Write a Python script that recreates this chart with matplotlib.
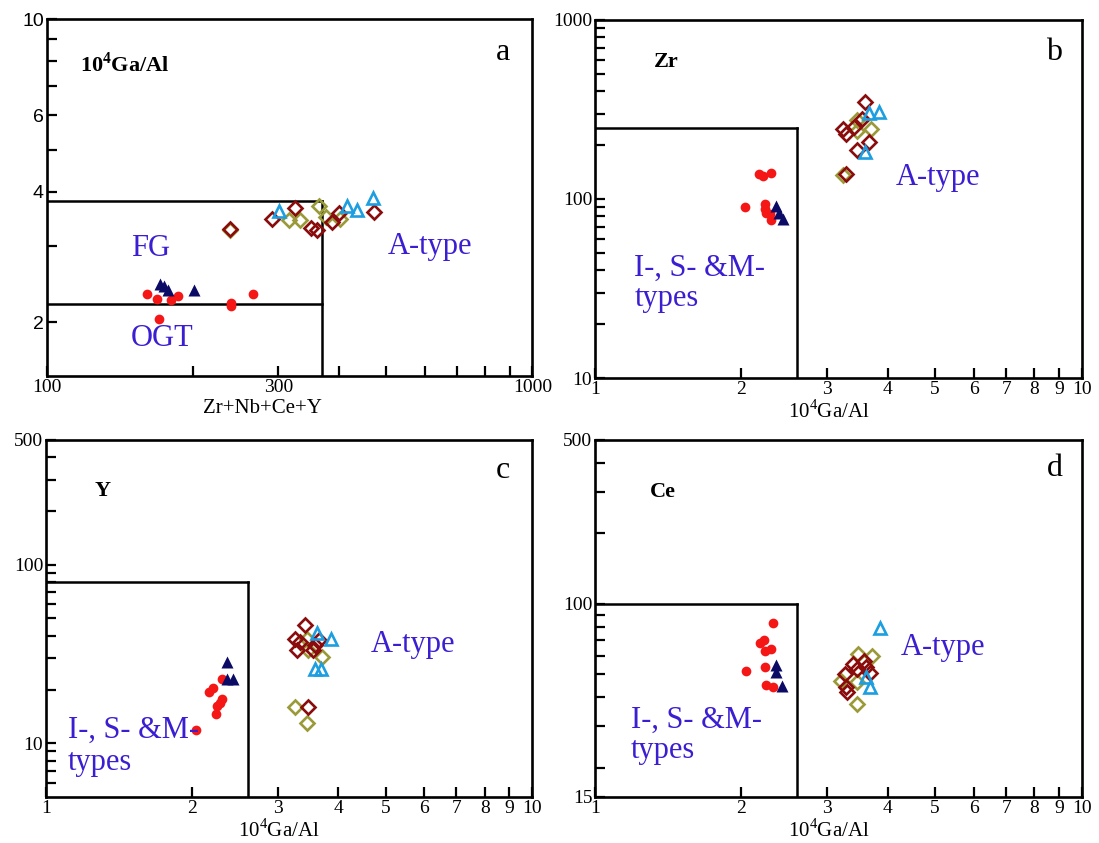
"""Ga/Al discrimination diagrams (Whalen et al. style), four panels."""

import matplotlib
matplotlib.use("Agg")
import matplotlib.pyplot as plt
from matplotlib import ticker

plt.rcParams["font.family"] = ["Liberation Serif", "DejaVu Serif"]
plt.rcParams["mathtext.fontset"] = "custom"
plt.rcParams["mathtext.rm"] = "Liberation Serif"
plt.rcParams["mathtext.bf"] = "Liberation Serif:bold"

# ---- panel a: Zr+Nb+Ce+Y vs 10^4Ga/Al ----
a_red_x = [161, 169, 170, 180, 186, 240, 240, 266]
a_red_y = [2.32, 2.26, 2.04, 2.25, 2.30, 2.22, 2.18, 2.32]
a_navy_x = [171, 174, 178, 201]
a_navy_y = [2.45, 2.43, 2.38, 2.38]
a_blue_x = [301, 416, 436, 470]
a_blue_y = [3.61, 3.71, 3.64, 3.87]
a_dred_x = [238, 291, 324, 350, 361, 386, 399, 473]
a_dred_y = [3.29, 3.47, 3.67, 3.30, 3.26, 3.41, 3.58, 3.59]
a_olive_x = [238, 316, 332, 364, 376, 402]
a_olive_y = [3.26, 3.45, 3.45, 3.71, 3.50, 3.46]

# ---- panel b: 10^4Ga/Al vs Zr ----
b_red_x = [2.03, 2.17, 2.21, 2.30, 2.24, 2.24, 2.25, 2.29, 2.30]
b_red_y = [90, 138, 134, 139, 94, 88, 84, 82, 76.5]
b_navy_x = [2.35, 2.39, 2.43]
b_navy_y = [91, 83, 77.5]
b_blue_x = [3.65, 3.83, 3.58]
b_blue_y = [301, 308, 182]
b_dred_x = [3.58, 3.54, 3.41, 3.24, 3.28, 3.46, 3.65, 3.28]
b_dred_y = [347, 280, 254, 246, 231, 187, 208, 138]
b_olive_x = [3.45, 3.46, 3.69, 3.24]
b_olive_y = [277, 241, 246, 137]

# ---- panel c: 10^4Ga/Al vs Y ----
c_red_x = [2.04, 2.17, 2.21, 2.24, 2.25, 2.28, 2.30, 2.30]
c_red_y = [11.8, 19.4, 20.3, 14.6, 16.1, 16.9, 17.8, 22.8]
c_navy_x = [2.36, 2.36, 2.43]
c_navy_y = [28.5, 23.0, 23.0]
c_blue_x = [3.61, 3.86, 3.58, 3.69]
c_blue_y = [41.4, 38.5, 25.9, 25.9]
c_dred_x = [3.41, 3.25, 3.28, 3.34, 3.55, 3.65, 3.58, 3.46]
c_dred_y = [45.7, 38.2, 33.1, 36.9, 33.1, 37.7, 35.3, 16.0]
c_olive_x = [3.45, 3.46, 3.70, 3.25, 3.45]
c_olive_y = [38.5, 33.1, 30.4, 16.0, 13.0]

# ---- panel d: 10^4Ga/Al vs Ce ----
d_red_x = [2.04, 2.18, 2.22, 2.24, 2.30, 2.32, 2.24, 2.25, 2.32]
d_red_y = [51.8, 68.3, 69.9, 63.0, 64.0, 83, 53.8, 45.2, 44.0]
d_navy_x = [2.35, 2.36, 2.42]
d_navy_y = [54.9, 51.4, 44.7]
d_blue_x = [3.85, 3.60, 3.67]
d_blue_y = [78.6, 48.5, 44.0]
d_dred_x = [3.26, 3.28, 3.30, 3.39, 3.46, 3.57, 3.60, 3.67]
d_dred_y = [50.1, 44.3, 41.9, 55.6, 52.6, 57.1, 53.8, 50.5]
d_olive_x = [3.47, 3.71, 3.20, 3.45, 3.45]
d_olive_y = [60.9, 60.0, 47.0, 46.2, 37.4]

# field boundaries
A_ZR_LIMIT = 368
A_FG_TOP = 3.8
A_FG_OGT = 2.2
GA_AL_LIMIT = 2.6
ZR_LIMIT = 250
Y_LIMIT = 80
CE_LIMIT = 100

BLUE_TEXT = "#3a1ed2"
RED = "#f51616"
NAVY = "#0b0b66"
LBLUE = "#1d9ee0"
DRED = "#8a0c0c"
OLIVE = "#9a9a38"

GA_AL = r"10$^4$Ga/Al"


def draw_points(ax, red, navy, olive, dred, blue):
    ax.plot(*red, "o", color=RED, ms=7, mec="none", zorder=3)
    ax.plot(*navy, "^", color=NAVY, ms=8, mec="none", zorder=3)
    ax.plot(*olive, "D", mfc="none", mec=OLIVE, ms=6.8, mew=1.9, zorder=3)
    ax.plot(*dred, "D", mfc="none", mec=DRED, ms=6.8, mew=1.9, zorder=3)
    ax.plot(*blue, "^", mfc="none", mec=LBLUE, ms=8, mew=1.9, zorder=3)


def style_axes(ax, xmaj, xmin, ymaj, ymin, ylabels_sans=False):
    ax.set_xscale("log")
    ax.set_yscale("log")
    ax.set_xticks(xmaj)
    ax.set_xticks(xmin, minor=True)
    ax.set_yticks(ymaj)
    ax.set_yticks(ymin, minor=True)
    ax.xaxis.set_major_formatter(ticker.FuncFormatter(lambda v, p: f"{v:g}"))
    ax.yaxis.set_major_formatter(ticker.FuncFormatter(lambda v, p: f"{v:g}"))
    ax.xaxis.set_minor_formatter(ticker.NullFormatter())
    ax.yaxis.set_minor_formatter(ticker.NullFormatter())
    ax.tick_params(which="both", direction="in", length=7, width=1.6,
                   top=False, right=False, labelsize=14, pad=2)
    if ylabels_sans:
        for lab in ax.get_yticklabels():
            lab.set_family(["Liberation Sans", "DejaVu Sans"])
            lab.set_fontsize(14)
    for sp in ax.spines.values():
        sp.set_linewidth(1.9)


fig = plt.figure(figsize=(10.99, 8.43), dpi=100)
ax_a = fig.add_axes([0.0425, 0.5534, 0.4419, 0.4237])
ax_b = fig.add_axes([0.5414, 0.5516, 0.4428, 0.4247])
ax_c = fig.add_axes([0.0419, 0.0546, 0.4419, 0.4235])
ax_d = fig.add_axes([0.5414, 0.0546, 0.4428, 0.4235])

ga_ticks = [1, 2, 3, 4, 5, 6, 7, 8, 9, 10]

# ---- a ----
ax = ax_a
ax.plot([100, A_ZR_LIMIT], [A_FG_TOP, A_FG_TOP], color="k", lw=1.8)
ax.plot([100, A_ZR_LIMIT], [A_FG_OGT, A_FG_OGT], color="k", lw=1.8)
ax.plot([A_ZR_LIMIT, A_ZR_LIMIT], [1.5, A_FG_TOP], color="k", lw=1.8)
draw_points(ax, (a_red_x, a_red_y), (a_navy_x, a_navy_y), (a_olive_x, a_olive_y),
            (a_dred_x, a_dred_y), (a_blue_x, a_blue_y))
style_axes(ax, [100, 300, 1000], [200, 400, 500, 600, 700, 800, 900],
           [2, 4, 6, 10], [3, 5, 7, 8, 9], ylabels_sans=True)
ax.set_xlim(100, 1000)
ax.set_ylim(1.5, 10)
ax.set_xlabel("Zr+Nb+Ce+Y", fontsize=15, va="top")
ax.xaxis.set_label_coords(0.445, -0.063)
ax.text(0.0686, 0.874, r"10$^\mathbf{4}$Ga/Al", transform=ax.transAxes,
        fontsize=16, fontweight="bold", va="center")
ax.text(0.94, 0.907, "a", transform=ax.transAxes, fontsize=23, ha="center", va="center")
ax.text(0.2145, 0.358, "FG", transform=ax.transAxes, fontsize=22, color=BLUE_TEXT,
        ha="center", va="center", zorder=4)
ax.text(0.2375, 0.107, "OGT", transform=ax.transAxes, fontsize=22, color=BLUE_TEXT,
        ha="center", va="center", zorder=4)
ax.text(0.79, 0.363, "A-type", transform=ax.transAxes, fontsize=22, color=BLUE_TEXT,
        ha="center", va="center", zorder=4)


def ga_panel(ax, pts, limit, ymaj, ymin, ylim, tag, elem, tag_pos, elem_pos,
             atype_pos, ism_pos, types_pos):
    ax.plot([1, GA_AL_LIMIT], [limit, limit], color="k", lw=1.8)
    ax.plot([GA_AL_LIMIT, GA_AL_LIMIT], [ylim[0], limit], color="k", lw=1.8)
    draw_points(ax, *pts)
    style_axes(ax, ga_ticks, [], ymaj, ymin)
    ax.set_xlim(1, 10)
    ax.set_ylim(*ylim)
    ax.set_xlabel(GA_AL, fontsize=15, va="top")
    ax.xaxis.set_label_coords(0.48, -0.063)
    ax.text(*elem_pos, elem, transform=ax.transAxes, fontsize=16,
            fontweight="bold", va="center")
    ax.text(*tag_pos, tag, transform=ax.transAxes, fontsize=23, ha="center", va="center")
    ax.text(*atype_pos, "A-type", transform=ax.transAxes, fontsize=22,
            color=BLUE_TEXT, ha="center", va="center", zorder=4)
    ax.text(*ism_pos, "I-, S- &M-", transform=ax.transAxes, fontsize=22,
            color=BLUE_TEXT, va="center", zorder=4)
    ax.text(*types_pos, "types", transform=ax.transAxes, fontsize=22,
            color=BLUE_TEXT, va="center", zorder=4)


dec_minor = [20, 30, 40, 50, 60, 70, 80, 90]

ga_panel(ax_b,
         ((b_red_x, b_red_y), (b_navy_x, b_navy_y), (b_olive_x, b_olive_y),
          (b_dred_x, b_dred_y), (b_blue_x, b_blue_y)),
         ZR_LIMIT, [10, 100, 1000], dec_minor + [200, 300, 400, 500, 600, 700, 800, 900],
         (10, 1000), "b", "Zr", (0.944, 0.91), (0.122, 0.882),
         (0.704, 0.561), (0.081, 0.305), (0.081, 0.221))

ga_panel(ax_c,
         ((c_red_x, c_red_y), (c_navy_x, c_navy_y), (c_olive_x, c_olive_y),
          (c_dred_x, c_dred_y), (c_blue_x, c_blue_y)),
         Y_LIMIT, [10, 100, 500], [6, 7, 8, 9] + dec_minor + [200, 300, 400],
         (5, 500), "c", "Y", (0.94, 0.914), (0.10, 0.856),
         (0.756, 0.427), (0.045, 0.188), (0.045, 0.097))

ga_panel(ax_d,
         ((d_red_x, d_red_y), (d_navy_x, d_navy_y), (d_olive_x, d_olive_y),
          (d_dred_x, d_dred_y), (d_blue_x, d_blue_y)),
         CE_LIMIT, [15, 100, 500], dec_minor + [200, 300, 400],
         (15, 500), "d", "Ce", (0.946, 0.921), (0.112, 0.854),
         (0.715, 0.42), (0.074, 0.214), (0.074, 0.13))

fig.savefig("out.png", dpi=100)
